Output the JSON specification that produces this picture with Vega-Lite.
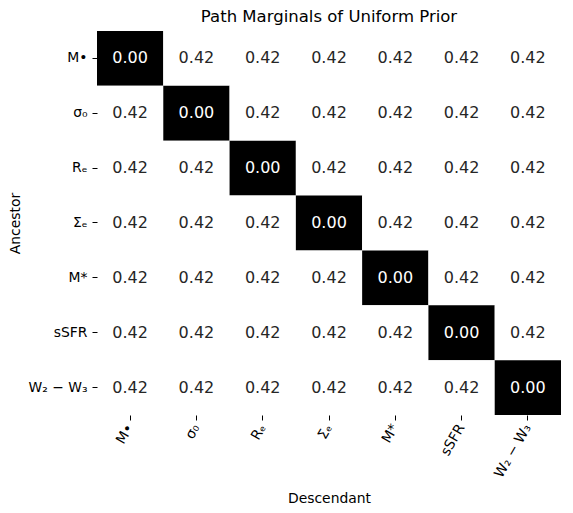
{
  "$schema": "https://vega.github.io/schema/vega-lite/v6.json",
  "width": 464,
  "height": 384,
  "padding": {"left": 8, "top": 8, "right": 5, "bottom": 5},
  "background": "white",
  "config": {"view": {"stroke": null}, "font": "DejaVu Sans"},
  "title": {"text": "Path Marginals of Uniform Prior", "fontSize": 16.5, "fontWeight": "normal", "font": "DejaVu Sans", "color": "black", "offset": 6},
  "datasets": {
    "cells": [
      {"a": "M•", "d": "M•", "v": 0.0}, {"a": "M•", "d": "σ₀", "v": 0.42}, {"a": "M•", "d": "Rₑ", "v": 0.42}, {"a": "M•", "d": "Σₑ", "v": 0.42}, {"a": "M•", "d": "M*", "v": 0.42}, {"a": "M•", "d": "sSFR", "v": 0.42}, {"a": "M•", "d": "W₂ − W₃", "v": 0.42},
      {"a": "σ₀", "d": "M•", "v": 0.42}, {"a": "σ₀", "d": "σ₀", "v": 0.0}, {"a": "σ₀", "d": "Rₑ", "v": 0.42}, {"a": "σ₀", "d": "Σₑ", "v": 0.42}, {"a": "σ₀", "d": "M*", "v": 0.42}, {"a": "σ₀", "d": "sSFR", "v": 0.42}, {"a": "σ₀", "d": "W₂ − W₃", "v": 0.42},
      {"a": "Rₑ", "d": "M•", "v": 0.42}, {"a": "Rₑ", "d": "σ₀", "v": 0.42}, {"a": "Rₑ", "d": "Rₑ", "v": 0.0}, {"a": "Rₑ", "d": "Σₑ", "v": 0.42}, {"a": "Rₑ", "d": "M*", "v": 0.42}, {"a": "Rₑ", "d": "sSFR", "v": 0.42}, {"a": "Rₑ", "d": "W₂ − W₃", "v": 0.42},
      {"a": "Σₑ", "d": "M•", "v": 0.42}, {"a": "Σₑ", "d": "σ₀", "v": 0.42}, {"a": "Σₑ", "d": "Rₑ", "v": 0.42}, {"a": "Σₑ", "d": "Σₑ", "v": 0.0}, {"a": "Σₑ", "d": "M*", "v": 0.42}, {"a": "Σₑ", "d": "sSFR", "v": 0.42}, {"a": "Σₑ", "d": "W₂ − W₃", "v": 0.42},
      {"a": "M*", "d": "M•", "v": 0.42}, {"a": "M*", "d": "σ₀", "v": 0.42}, {"a": "M*", "d": "Rₑ", "v": 0.42}, {"a": "M*", "d": "Σₑ", "v": 0.42}, {"a": "M*", "d": "M*", "v": 0.0}, {"a": "M*", "d": "sSFR", "v": 0.42}, {"a": "M*", "d": "W₂ − W₃", "v": 0.42},
      {"a": "sSFR", "d": "M•", "v": 0.42}, {"a": "sSFR", "d": "σ₀", "v": 0.42}, {"a": "sSFR", "d": "Rₑ", "v": 0.42}, {"a": "sSFR", "d": "Σₑ", "v": 0.42}, {"a": "sSFR", "d": "M*", "v": 0.42}, {"a": "sSFR", "d": "sSFR", "v": 0.0}, {"a": "sSFR", "d": "W₂ − W₃", "v": 0.42},
      {"a": "W₂ − W₃", "d": "M•", "v": 0.42}, {"a": "W₂ − W₃", "d": "σ₀", "v": 0.42}, {"a": "W₂ − W₃", "d": "Rₑ", "v": 0.42}, {"a": "W₂ − W₃", "d": "Σₑ", "v": 0.42}, {"a": "W₂ − W₃", "d": "M*", "v": 0.42}, {"a": "W₂ − W₃", "d": "sSFR", "v": 0.42}, {"a": "W₂ − W₃", "d": "W₂ − W₃", "v": 0.0}
    ]
  },
  "data": {"name": "cells"},
  "encoding": {
    "x": {
      "field": "d", "type": "nominal",
      "sort": ["M•", "σ₀", "Rₑ", "Σₑ", "M*", "sSFR", "W₂ − W₃"],
      "scale": {"paddingInner": 0, "paddingOuter": 0},
      "axis": {"title": "Descendant", "titleFontWeight": "normal", "titleFontSize": 13.9, "titleColor": "black", "titlePadding": 12, "labelAngle": -60, "labelFontSize": 13.9, "labelColor": "black", "domain": false, "ticks": true, "tickSize": 5, "tickColor": "black", "labelPadding": 5, "grid": false}
    },
    "y": {
      "field": "a", "type": "nominal",
      "sort": ["M•", "σ₀", "Rₑ", "Σₑ", "M*", "sSFR", "W₂ − W₃"],
      "scale": {"paddingInner": 0, "paddingOuter": 0},
      "axis": {"title": "Ancestor", "titleFontWeight": "normal", "titleFontSize": 13.9, "titleColor": "black", "titlePadding": 5, "labelFontSize": 13.9, "labelColor": "black", "domain": false, "ticks": true, "tickSize": 5, "tickColor": "black", "labelPadding": 5, "grid": false}
    }
  },
  "layer": [
    {
      "mark": {"type": "rect"},
      "encoding": {
        "color": {"field": "v", "type": "quantitative", "scale": {"domain": [0, 0.42], "range": ["black", "white"]}, "legend": null}
      }
    },
    {
      "mark": {"type": "text", "fontSize": 16, "font": "DejaVu Sans"},
      "encoding": {
        "text": {"field": "v", "type": "quantitative", "format": ".2f"},
        "color": {"condition": {"test": "datum.v < 0.2", "value": "white"}, "value": "#262626"}
      }
    }
  ]
}
